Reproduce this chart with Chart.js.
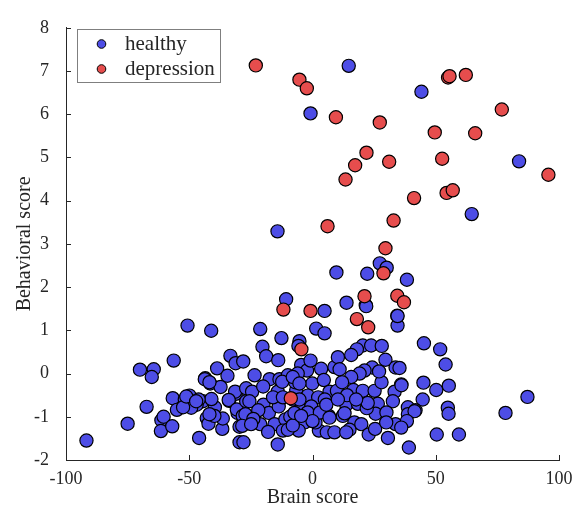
<!DOCTYPE html>
<html>
<head>
<meta charset="utf-8">
<script src="https://cdn.jsdelivr.net/npm/chart.js@4/dist/chart.umd.min.js"></script>
<style>
    html, body { margin: 0; padding: 0; background: #fff; }
    canvas { display: block; }
</style>
</head>
<body>
<canvas id="scatter" width="588" height="515"></canvas>
<script>
// ============================================
// DATA
// ============================================

const seriesNames = ['healthy', 'depression'];

const xTicks = [-100, -50, 0, 50, 100];
const yTicks = [-2, -1, 0, 1, 2, 3, 4, 5, 6, 7, 8];

const healthyX = [
    14.7, 44.2, -0.8, 83.8, 64.6, -14.2, 27.3, 30.1, 9.7, 22.2, 38.3, 21.6, 13.8, -10.7, 4.9, 34.4, 34.5, -21.2, 1.5, 4.9, -12.6, -5.3, -5.7, -20.3,
    -91.7, -75, -67.3, -70, -64.4, -65.2, -56.3, -50.7, -41.1, -61.3, -60.4, -61.5, -56.9, -56.7, -55, -51.8, -49.9, -46, -44.5, -47, -49.2,
    -43.5, -41.5, -38.7, -37.3, -34.5, -33.3, -31.2, -42.9, -42.2, -39.6, -36.6, -36.4, -33.8, -31.1, -29.6, -30.4, -41, -28.1, -43.7, -41.8,
    -31.4, -26.9, -34, -30.7, -26.9, -28.3, -39.8, -29.6, -46.2, -52.5,
    -18.8, -13.9, -4.6, -2.2, -0.8, 3.5, 8.9, -23.5, -17.4, -13.4, -10, -0.1, 4.6, 6.9, -24.5, -14.1, -6.6, -1.9, 2.3, -25.6, -19.9, -17.7,
    -13.7, -4.9, -0.5, 6.6, -27.2, -28.5, -21.2, -15.4, -11, -12, -3.2, -5.6, 2.6, 1.2, 5.8, -28, -14.1,
    -8, -9, -7, -20, -16, -10, -2, 3, -22, -6, 0, -18, -24, -8, 5, -12,
    21.8, 34.5, 45.2, 20.4, 23.8, 28.1, 18, 15.7, 10.3, 29.6, 33.7, 24.2, 21.1, 19.1, 15.7, 36, 45, 44.7, 33.3, 32.6, 9.9, 16.6, 20.4, 25.2,
    13.7, 18.4, 26.5, 25.6, 38.7, 38.7, 41.8, 12.3, 17, 19.8, 22.8, 25.4, 30.6, 33.7, 39.1, 8.9, 6.9,
    51.8, 54, 50.2, 55.3, 36.1, 35.3, 41.4, 38.3, 54.9, 55.2, 78.3, 87.2, 50.4, 59.4,
    12, 14, 28, 30, 22, 11, 27, 36, 15,
    22.4, 13.7, -7.3, -4.6, -5.3, 5.6, 10.3, 17.7, 29.9, 13, -12.3, -8, -5.3, -51.2, -47.2, -41.8, -24.9
];

const healthyY = [
    7.12, 6.52, 6.02, 4.91, 3.69, 3.29, 2.55, 2.45, 2.34, 2.31, 2.17, 1.58, 1.64, 1.72, 1.45, 1.34, 1.11, 1.03, 1.04, 0.93, 0.82, 0.75, 0.64, 0.62,
    -1.55, -1.16, -0.77, 0.09, 0.1, -0.08, 0.3, 1.11, 0.99, -1.08, -1.0, -1.33, -1.22, -0.57, -0.84, -0.6, -0.51, -1.49, -0.64, -0.72, -0.79,
    -0.11, -0.23, 0.12, -0.31, -0.05, 0.41, 0.24, -1.03, -1.16, -0.78, -1.28, -1.04, -0.63, -0.47, -1.59, -0.91, -0.59, 0.28, -0.13, -0.2,
    -0.42, -0.34, -0.61, -0.83, -0.64, -0.98, -0.98, -1.23, -0.6, -0.78,
    0.4, 0.31, 0.2, 0.07, 0.3, 0.11, 0.15, -0.04, -0.13, -0.13, -0.04, -0.23, -0.15, -0.42, -0.42, -0.42, -0.38, -0.51, -0.55, -0.64, -0.72, -0.91,
    -0.76, -0.83, -0.76, -0.98, -0.94, -1.21, -1.17, -1.17, -1.06, -1.32, -1.13, -1.32, -1.32, -1.13, -1.36, -1.59, -1.64,
    -0.6, -1.0, -0.2, -0.3, -0.55, -1.3, -0.9, -0.9, -0.85, 0.0, -1.1, -1.35, -1.05, -1.2, -0.6, -0.55,
    1.56, 1.33, 0.7, 0.65, 0.65, 0.64, 0.56, 0.43, 0.38, 0.32, 0.14, 0.14, 0.07, 0, -0.08, -0.25, -0.21, -0.6, -0.42, -0.64, -0.4, -0.38, -0.4, -0.4,
    -0.72, -0.7, -0.7, -0.93, -0.78, -0.94, -0.85, -0.98, -1.13, -1.17, -1.41, -1.28, -1.49, -1.17, -1.71, -1.36, -1.02,
    0.56, 0.21, -0.38, -0.28, -0.27, 0.13, -0.87, -1.1, -0.79, -0.93, -0.91, -0.54, -1.41, -1.41,
    -0.2, -0.5, -0.2, -0.9, -0.8, 0.1, 0.05, -1.25, -1.3,
    -0.68, -1.36, -0.91, -0.98, -0.6, -0.72, -0.6, -0.6, -1.13, -0.92, -0.19, -0.08, -0.23, -0.53, -0.64, -0.94, -1.17
];

const depressionX = [
    -23, -5.3, -2.3, 9.5, 27.3, 55, 55.6, 62.2, 76.8, 49.6, 66, 21.9, 17.3, 31.1, 52.6, 95.7, 13.4, 41.2, 54.4, 56.9,
    6.1, 32.9, 29.6, 28.8, 21.1, 34.4, 37.1, -11.8, -0.8, 18, 22.6, -4.5, -8.8
];

const depressionY = [
    7.13, 6.8, 6.6, 5.93, 5.81, 6.85, 6.88, 6.91, 6.11, 5.58, 5.56, 5.11, 4.82, 4.9, 4.97, 4.6, 4.49, 4.06, 4.18, 4.24,
    3.41, 3.54, 2.9, 2.32, 1.79, 1.8, 1.65, 1.48, 1.45, 1.26, 1.07, 0.56, -0.57
];

// ============================================
// STYLE
// ============================================

const INK = '#262626';
const FILLS = ['rgb(77, 77, 230)', 'rgb(230, 77, 77)'];
const SERIF = '"Liberation Serif", "Times New Roman", serif';

const toPoints = (xs, ys) => xs.map((x, i) => ({ x, y: ys[i] }));

/**
 * Inward tick marks, MATLAB style
 */
const inwardTicks = {
    id: 'inwardTicks',
    afterDraw(chart) {
        const { ctx, chartArea } = chart;
        const len = 5;
        ctx.save();
        ctx.strokeStyle = INK;
        ctx.lineWidth = 1;
        const xs = chart.scales.x;
        xs.ticks.forEach((t, i) => {
            const px = Math.round(xs.getPixelForTick(i)) + 0.5;
            ctx.beginPath();
            ctx.moveTo(px, chartArea.bottom);
            ctx.lineTo(px, chartArea.bottom - len);
            ctx.stroke();
        });
        const ys = chart.scales.y;
        ys.ticks.forEach((t, i) => {
            const py = Math.round(ys.getPixelForTick(i)) + 0.5;
            ctx.beginPath();
            ctx.moveTo(chartArea.left, py);
            ctx.lineTo(chartArea.left + len, py);
            ctx.stroke();
        });
        ctx.restore();
    }
};

/**
 * Boxed legend in the upper left of the plot
 */
const boxLegend = {
    id: 'boxLegend',
    afterDraw(chart) {
        const { ctx } = chart;
        const box = { x: 77, y: 29, w: 143, h: 53 };
        ctx.save();
        ctx.fillStyle = '#fff';
        ctx.fillRect(box.x, box.y, box.w, box.h);
        ctx.strokeStyle = '#7f7f7f';
        ctx.lineWidth = 1;
        ctx.strokeRect(box.x + 0.5, box.y + 0.5, box.w, box.h);
        ctx.font = '21px ' + SERIF;
        ctx.textBaseline = 'middle';
        seriesNames.forEach((name, i) => {
            const cy = 44 + i * 25;
            ctx.beginPath();
            ctx.arc(101.5, cy, 4.3, 0, Math.PI * 2);
            ctx.fillStyle = FILLS[i];
            ctx.fill();
            ctx.strokeStyle = '#000';
            ctx.lineWidth = 1;
            ctx.stroke();
            ctx.fillStyle = INK;
            ctx.fillText(name, 125, cy);
        });
        ctx.restore();
    }
};

// ============================================
// CHART
// ============================================

new Chart(document.getElementById('scatter'), {
    type: 'scatter',
    data: {
        datasets: [
            {
                label: seriesNames[0],
                data: toPoints(healthyX, healthyY),
                backgroundColor: FILLS[0],
                borderColor: '#000',
                borderWidth: 1.2,
                pointRadius: 6.6,
                order: 2
            },
            {
                label: seriesNames[1],
                data: toPoints(depressionX, depressionY),
                backgroundColor: FILLS[1],
                borderColor: '#000',
                borderWidth: 1.2,
                pointRadius: 6.6,
                order: 1
            }
        ]
    },
    options: {
        responsive: false,
        animation: false,
        devicePixelRatio: 1,
        layout: { padding: { top: 18, right: 29, left: 0, bottom: 0 } },
        plugins: {
            legend: { display: false },
            tooltip: { enabled: false }
        },
        scales: {
            x: {
                type: 'linear',
                min: xTicks[0],
                max: xTicks[xTicks.length - 1],
                afterBuildTicks: (scale) => { scale.ticks = xTicks.map(v => ({ value: v })); },
                afterFit: (scale) => { scale.height = 55; },
                grid: { display: true, drawOnChartArea: false, drawTicks: false },
                border: { display: true, color: INK, width: 1 },
                ticks: { color: INK, padding: 8, font: { family: SERIF, size: 18 } },
                title: {
                    display: true,
                    text: 'Brain score',
                    color: INK,
                    font: { family: SERIF, size: 20 },
                    padding: { top: 0, bottom: 5 }
                }
            },
            y: {
                type: 'linear',
                min: yTicks[0],
                max: yTicks[yTicks.length - 1],
                afterBuildTicks: (scale) => { scale.ticks = yTicks.map(v => ({ value: v })); },
                afterFit: (scale) => { scale.width = 66; },
                grid: { display: true, drawOnChartArea: false, drawTicks: false },
                border: { display: true, color: INK, width: 1 },
                ticks: { color: INK, padding: 17, font: { family: SERIF, size: 18 } },
                title: {
                    display: true,
                    text: 'Behavioral score',
                    color: INK,
                    font: { family: SERIF, size: 20 },
                    padding: { top: 13, bottom: 0 }
                }
            }
        }
    },
    plugins: [inwardTicks, boxLegend]
});
</script>
</body>
</html>
